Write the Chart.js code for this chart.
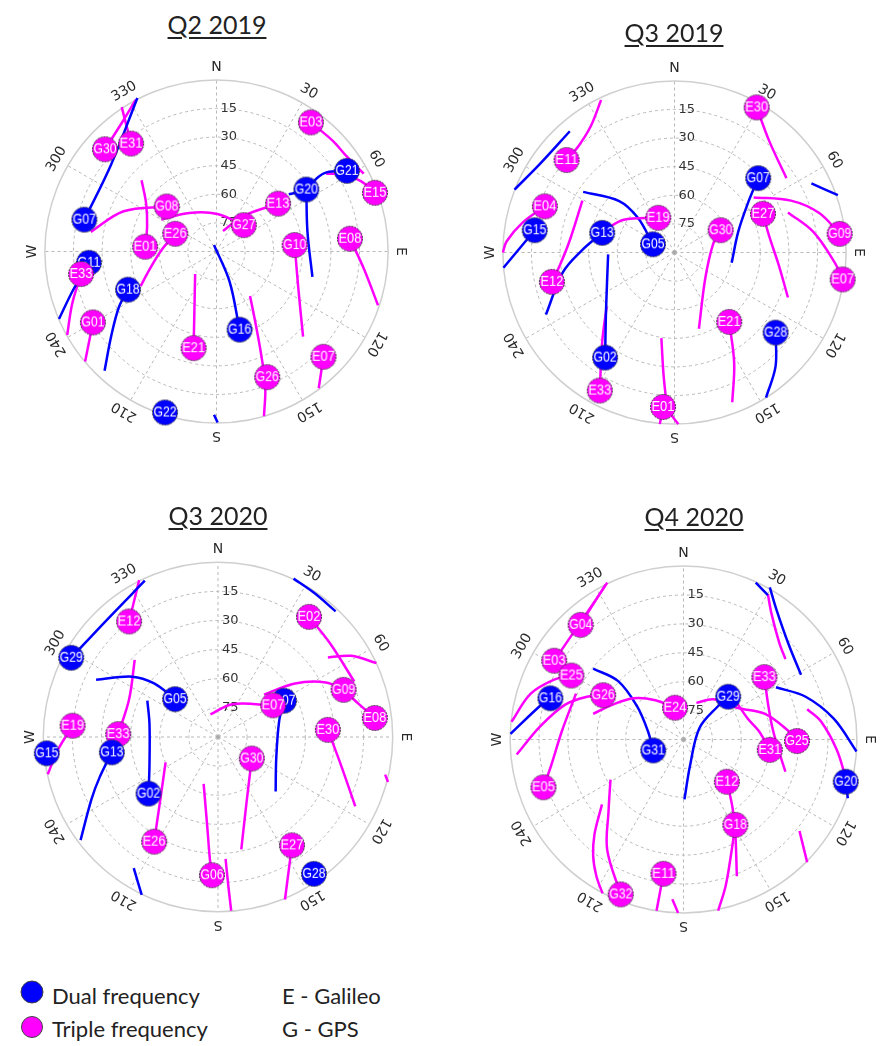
<!DOCTYPE html>
<html><head><meta charset="utf-8">
<script src="https://cdn.jsdelivr.net/npm/chart.js@4.4.0/dist/chart.umd.min.js"></script>
<style>
html,body{margin:0;padding:0;background:#fff;}
body{width:891px;height:1046px;overflow:hidden;position:relative;font-family:Lato,"Open Sans",sans-serif;color:#222}
.title{position:absolute;font-size:25px;text-decoration:underline;text-decoration-thickness:2px;text-underline-offset:3px;transform:translate(-50%,-50%);white-space:nowrap;z-index:2}
canvas{position:absolute}
.leg{position:absolute;font-size:22px;white-space:nowrap;transform:translateY(-50%)}
.dot{position:absolute;border-radius:50%;border:1px solid #444;transform:translate(-50%,-50%)}
</style></head><body>
<canvas id="c1"></canvas><canvas id="c2"></canvas><canvas id="c3"></canvas><canvas id="c4"></canvas>
<div class="title" style="left:217px;top:24px">Q2 2019</div>
<div class="title" style="left:674px;top:32px">Q3 2019</div>
<div class="title" style="left:218px;top:515px">Q3 2020</div>
<div class="title" style="left:694px;top:516px">Q4 2020</div>
<div class="dot" style="left:32px;top:992px;width:21px;height:21px;background:#0000ff"></div>
<div class="leg" style="left:52px;top:995px">Dual frequency</div>
<div class="dot" style="left:32px;top:1027px;width:20px;height:20px;background:#ff00ff"></div>
<div class="leg" style="left:52px;top:1028px">Triple frequency</div>
<div class="leg" style="left:282px;top:995px">E - Galileo</div>
<div class="leg" style="left:282px;top:1028px">G - GPS</div>
<script>
// Sky-plot coordinates: [east, north] in degrees of zenith distance (90 - elevation)
const AZ_LABELS = ['N','30','60','E','120','150','S','210','240','W','300','330'];
const EL_RINGS = [15,30,45,60,75];
const FREQ_COLORS = {D:'#0000ff', T:'#ff00ff'};

// ---- Q2 2019 ----
const p1Sats = [
 ['G30','T',-58.5,53.6],['E31','T',-44.8,56.6],['E03','T',49.5,67.7],['G21','D',68.4,42.3],['G20','D',47.1,32.5],
 ['E15','T',83.1,30.8],['G07','D',-69.3,16.7],['G08','T',-26.1,23.6],['E13','T',32.3,25.1],['G27','T',14.3,13.8],
 ['E26','T',-21.6,9.3],['E01','T',-37.4,2.5],['G10','T',41.0,3.4],['E08','T',70.0,6.7],['G11','D',-66.9,-5.9],
 ['E33','T',-71.0,-11.8],['G18','D',-46.4,-20.0],['G01','T',-64.8,-37.2],['E21','T',-12.0,-50.7],['G16','D',12.1,-41.0],
 ['E07','T',56.1,-55.2],['G26','T',26.6,-65.9],['G22','D',-27.0,-84.4]
];
const p1Tracks = [
 ['D',[[-69.3,16.7],[-55.6,44.8],[-41.5,80.5]]],
 ['T',[[-58.5,53.6],[-49.7,67.4],[-42.3,79.7]]],
 ['T',[[-44.8,56.6],[-49.7,75.7]]],
 ['T',[[49.5,67.7],[61.0,58.0],[68.4,49.7],[77.2,40.8]]],
 ['D',[[68.4,42.3],[57.7,41.5],[52.6,38.4],[47.1,32.5],[37.9,30.0]]],
 ['T',[[83.1,30.8],[75.7,36.9],[66.9,40.3],[57.5,40.8]]],
 ['D',[[47.1,32.5],[47.7,10.3],[50.3,-13.3]]],
 ['T',[[3.4,10.8],[14.3,18.7],[32.3,25.1]]],
 ['T',[[-29.0,16.7],[-14.3,20.2],[0.5,19.7],[14.3,13.8]]],
 ['T',[[-26.1,23.6],[-48.7,21.1],[-65.9,10.3]]],
 ['T',[[-39.3,37.4],[-36.9,25.1],[-36.4,12.8],[-37.4,2.5]]],
 ['T',[[-21.6,9.3],[-29.0,0.5],[-35.9,-10.8],[-39.8,-18.2]]],
 ['D',[[-46.4,-20.0],[-51.1,-29.0],[-55.1,-43.8],[-58.7,-62.5]]],
 ['D',[[-66.9,-5.9],[-75.2,-20.2],[-82.6,-35.4]]],
 ['T',[[-71.0,-11.8],[-75.7,-27.5],[-78.3,-43.8]]],
 ['T',[[-64.8,-37.2],[-68.9,-57.7]]],
 ['T',[[-12.0,-50.7],[-11.6,-31.5],[-11.2,-11.8]]],
 ['D',[[12.1,-41.0],[6.9,-15.9],[-1.3,3.4]]],
 ['T',[[41.0,3.4],[42.9,-19.2],[45.4,-44.6]]],
 ['T',[[70.0,6.7],[77.4,-9.3],[84.7,-28.2]]],
 ['T',[[56.1,-55.2],[53.6,-71.7]]],
 ['T',[[17.6,-23.3],[20.7,-38.9],[23.6,-55.1],[25.6,-70.8],[24.9,-86.4]]],
 ['D',[[-1.3,-85.6],[0.6,-89.7]]]
];

// ---- Q3 2019 ----
const p2Sats = [
 ['E30','T',43.1,76.1],['E11','T',-56.6,48.5],['G07','D',43.9,39.0],['E04','T',-68.0,24.2],['E19','T',-8.5,18.2],
 ['E27','T',46.4,20.3],['G30','T',24.2,11.7],['G09','T',86.6,9.8],['G15','D',-73.3,11.7],['G13','D',-37.9,10.3],
 ['G05','D',-11.3,4.3],['E12','T',-64.3,-15.4],['E07','T',88.2,-14.1],['E21','T',28.7,-36.4],['G28','D',53.0,-42.0],
 ['G02','D',-36.4,-55.1],['E33','T',-39.2,-72.4],['E01','T',-6.0,-81.0]
];
const p2Tracks = [
 ['T',[[43.1,76.1],[49.7,58.4],[58.7,39.0]]],
 ['T',[[-56.6,48.5],[-50.3,55.9],[-43.8,66.5],[-38.5,80.0]]],
 ['D',[[-83.9,33.0],[-70.8,46.2],[-54.9,63.6]]],
 ['D',[[71.8,36.2],[85.7,30.1]]],
 ['D',[[43.9,39.0],[38.4,25.6],[33.4,10.8],[30.0,-5.4]]],
 ['T',[[41.5,28.9],[61.1,27.2],[75.9,20.7],[86.6,9.8]]],
 ['T',[[46.4,20.3],[49.7,8.4],[54.6,-6.4],[59.5,-23.6]]],
 ['T',[[59.5,21.0],[72.8,10.8],[84.1,-5.4],[88.2,-14.1]]],
 ['T',[[24.2,11.7],[20.2,4.3],[16.1,-13.8],[12.8,-40.0]]],
 ['T',[[-8.5,18.2],[-26.6,17.2],[-36.4,11.8]]],
 ['D',[[-47.9,31.8],[-29.0,27.0],[-19.2,18.2],[-11.3,4.3]]],
 ['T',[[-68.0,24.2],[-79.7,15.7],[-88.0,5.9],[-90.0,0]]],
 ['D',[[-73.3,11.7],[-89.7,-8.0]]],
 ['T',[[-48.3,27.2],[-55.1,5.9],[-60.0,-6.4],[-64.3,-15.4]]],
 ['D',[[-37.9,10.3],[-48.7,1.0],[-58.5,-10.3],[-67.4,-32.5]]],
 ['D',[[-36.4,-55.1],[-35.9,-30.1],[-34.8,-1.0]]],
 ['T',[[-39.2,-72.4],[-37.9,-46.7],[-35.6,-28.5]]],
 ['T',[[-6.9,-44.9],[-5.4,-67.9],[-3.0,-82.6],[2.0,-90.0]]],
 ['T',[[-6.0,-81.0],[-7.7,-90.0]]],
 ['T',[[28.7,-36.4],[31.3,-58.0],[30.3,-78.5]]],
 ['D',[[53.0,-42.0],[53.0,-59.7],[48.0,-76.1]]]
];

// ---- Q3 2020 ----
const p3Sats = [
 ['G29','D',-75.6,40.8],['E12','T',-45.8,59.5],['E02','T',46.9,61.9],['G05','D',-22.1,19.5],['G09','T',64.7,24.3],
 ['G07','D',34.0,18.7],['E07','T',28.4,16.3],['E08','T',80.8,9.8],['E19','T',-74.9,5.8],['E33','T',-51.4,1.5],
 ['E30','T',56.6,3.7],['G15','D',-88.2,-8.4],['G13','D',-54.7,-7.9],['G30','T',17.4,-11.1],['G02','D',-35.8,-29.2],
 ['E26','T',-32.9,-53.9],['E27','T',38.1,-55.8],['G06','T',-3.1,-71.2],['G28','D',49.4,-70.5]
];
const p3Tracks = [
 ['D',[[-75.6,40.8],[-57.1,60.5],[-37.7,80.5]]],
 ['T',[[-45.8,59.5],[-40.6,80.8]]],
 ['D',[[38.9,81.6],[49.8,74.0],[60.6,64.7]]],
 ['T',[[46.9,61.9],[57.6,48.4],[70.2,28.6]]],
 ['T',[[56.6,41.0],[68.7,41.8],[81.6,38.1]]],
 ['T',[[23.7,21.8],[39.7,27.6],[55.6,28.1],[64.7,24.3]]],
 ['T',[[64.7,24.3],[72.6,16.9],[80.8,9.8]]],
 ['D',[[34.0,18.7],[31.5,8.2],[30.0,-11.1],[29.7,-28.1]]],
 ['T',[[28.4,16.3],[7.3,16.9],[-3.9,11.6]]],
 ['D',[[-22.1,19.5],[-32.9,27.6],[-44.2,31.1],[-62.8,29.5]]],
 ['T',[[-42.9,39.7],[-45.8,19.4],[-51.4,1.5]]],
 ['D',[[-36.4,18.7],[-35.3,6.8],[-35.3,-14.5],[-35.8,-29.2]]],
 ['T',[[-74.9,5.8],[-82.3,-6.3],[-87.7,-19.2]]],
 ['D',[[-54.7,-7.9],[-61.0,-20.8],[-65.2,-32.1],[-70.8,-53.1]]],
 ['T',[[-32.9,-53.9],[-29.7,-32.1],[-27.0,-13.1]]],
 ['T',[[-7.4,-24.1],[-5.5,-46.6],[-4.2,-62.8],[-3.1,-71.2]]],
 ['T',[[3.9,-62.8],[5.3,-76.5],[6.8,-89.5]]],
 ['T',[[17.4,-11.1],[14.7,-33.7],[12.0,-57.9]]],
 ['T',[[56.6,3.7],[63.9,-16.0],[70.7,-35.7]]],
 ['T',[[38.1,-55.8],[34.5,-83.7]]],
 ['D',[[-43.4,-67.6],[-39.3,-81.3]]],
 ['T',[[86.1,-19.4],[87.6,-23.2]]]
];

// ---- Q4 2020 ----
const p4Sats = [
 ['G04','T',-53.4,59.5],['E03','T',-67.1,40.9],['E25','T',-58.2,33.2],['G16','D',-69.1,21.4],['G26','T',-41.7,23.0],
 ['E24','T',-4.4,16.5],['G29','D',23.2,22.2],['E33','T',42.0,32.4],['G31','D',-15.7,-5.7],['E31','T',44.8,-5.4],
 ['G25','T',58.9,-0.8],['E05','T',-72.7,-24.8],['E12','T',22.5,-21.9],['G20','D',84.2,-21.9],['G18','T',26.9,-44.3],
 ['E11','T',-10.4,-69.7],['G32','T',-32.6,-80.4]
];
const p4Tracks = [
 ['T',[[-67.1,40.9],[-59.8,51.6],[-53.5,60.8],[-46.2,71.5],[-40.4,80.3]]],
 ['T',[[-53.4,59.5],[-46.7,70.5],[-39.6,81.4]]],
 ['T',[[-58.2,33.2],[-67.1,31.1],[-79.3,23.8],[-89.3,9.2]]],
 ['D',[[-69.1,21.4],[-74.4,17.5],[-89.8,2.9]]],
 ['T',[[-41.7,23.0],[-50.1,22.2],[-61.4,18.1],[-74.4,6.8],[-86.6,-7.8]]],
 ['T',[[-4.4,16.5],[-14.6,20.4],[-25.8,21.4],[-37.0,18.0],[-46.9,13.3]]],
 ['T',[[-55.8,23.8],[-63.1,4.4],[-68.7,-13.5],[-72.7,-24.8]]],
 ['D',[[-46.9,36.8],[-33.9,30.3],[-24.2,17.4],[-18.5,4.4],[-15.7,-5.7]]],
 ['D',[[23.2,22.2],[18.0,17.4],[8.3,6.0],[3.4,-13.5],[0.5,-31.1]]],
 ['T',[[6.7,19.0],[15.6,20.9],[27.7,16.5],[42.3,13.3],[54.5,4.4],[58.9,-0.8]]],
 ['T',[[27.7,19.0],[33.4,10.8],[39.1,4.4],[44.8,-5.4]]],
 ['T',[[42.0,32.4],[43.8,19.0],[46.2,5.8],[49.6,-6.3],[52.9,-16.7]]],
 ['D',[[48.0,27.1],[63.4,22.2],[78.0,10.8],[89.8,-6.2]]],
 ['T',[[64.2,15.7],[71.5,9.2],[79.6,-5.4],[84.2,-19.9]]],
 ['D',[[84.2,-21.9],[85.3,-30.5]]],
 ['D',[[37.5,81.4],[43.8,74.9]]],
 ['D',[[44.8,79.0],[48.2,67.6],[54.5,49.6],[61.0,33.6]]],
 ['T',[[43.8,75.4],[45.7,65.2],[49.6,50.6],[52.9,41.7]]],
 ['T',[[60.2,-47.5],[64.2,-63.7]]],
 ['T',[[22.5,-21.9],[25.3,-34.5],[26.8,-46.7],[27.7,-71.0]]],
 ['T',[[26.9,-44.3],[24.8,-58.9],[21.9,-75.9],[18.0,-88.9]]],
 ['T',[[-10.4,-69.7],[-14.0,-88.9]]],
 ['T',[[-5.8,-82.9],[-2.8,-90.0]]],
 ['T',[[-32.6,-80.4],[-39.6,-57.3],[-38.9,-37.0],[-37.9,-20.8]]],
 ['T',[[-42.3,-33.7],[-46.2,-49.1],[-46.9,-60.5],[-45.2,-71.0],[-42.0,-79.9]]]
];

const polarGrid = {
  id: 'polarGrid',
  beforeDatasetsDraw(chart) {
    const {ctx, scales: {x, y}} = chart;
    const cx = x.getPixelForValue(0), cy = y.getPixelForValue(0);
    const rad = v => Math.abs(x.getPixelForValue(v) - cx);
    const R = rad(90);
    ctx.save();
    ctx.strokeStyle = '#b8b8b8'; ctx.lineWidth = 1; ctx.setLineDash([3, 3]);
    EL_RINGS.forEach(el => { ctx.beginPath(); ctx.arc(cx, cy, rad(90 - el), 0, 2 * Math.PI); ctx.stroke(); });
    for (let a = 0; a < 360; a += 30) {
      const t = a * Math.PI / 180;
      ctx.beginPath(); ctx.moveTo(cx, cy); ctx.lineTo(cx + R * Math.sin(t), cy - R * Math.cos(t)); ctx.stroke();
    }
    ctx.setLineDash([]);
    ctx.strokeStyle = '#cfcfcf'; ctx.lineWidth = 1.5;
    ctx.beginPath(); ctx.arc(cx, cy, R, 0, 2 * Math.PI); ctx.stroke();
    ctx.fillStyle = '#aaa'; ctx.beginPath(); ctx.arc(cx, cy, 2, 0, 2 * Math.PI); ctx.fill();
    ctx.fillStyle = '#2a2a2a'; ctx.font = '14px "DejaVu Sans"'; ctx.textAlign = 'center'; ctx.textBaseline = 'middle';
    AZ_LABELS.forEach((lab, i) => {
      const t = i * 30 * Math.PI / 180, d = R + 13;
      ctx.save(); ctx.translate(cx + d * Math.sin(t), cy - d * Math.cos(t)); ctx.rotate(t); ctx.fillText(lab, 0, 0); ctx.restore();
    });
    ctx.textAlign = 'left'; ctx.font = '13px "DejaVu Sans"'; ctx.fillStyle = '#333';
    EL_RINGS.forEach(el => ctx.fillText(String(el), cx + 4, cy - rad(90 - el)));
    ctx.restore();
  }
};

function satSprite(name, freq) {
  const c = document.createElement('canvas'); c.width = 30; c.height = 30;
  const g = c.getContext('2d');
  g.beginPath(); g.arc(15, 15, 12.5, 0, 2 * Math.PI);
  g.fillStyle = FREQ_COLORS[freq]; g.fill();
  g.strokeStyle = '#3a3a3a'; g.lineWidth = 1; g.setLineDash([2, 1]); g.stroke();
  g.fillStyle = '#fff'; g.font = '14px "Liberation Sans"'; g.textAlign = 'center'; g.textBaseline = 'middle';
  g.fillText(name, 15, 15.5, 23);
  return c;
}

function makeChart(id, sats, tracks, cx, cy, R) {
  const size = Math.round(2 * R * 102 / 90);
  const cv = document.getElementById(id);
  cv.width = size; cv.height = size;
  cv.style.left = (cx - size / 2) + 'px'; cv.style.top = (cy - size / 2) + 'px';
  const datasets = tracks.map(([f, pts]) => ({
    data: pts.map(([u, v]) => ({x: u, y: v})),
    showLine: true, borderColor: FREQ_COLORS[f], borderWidth: 2.5,
    pointRadius: 0, tension: 0.35, order: 10, clip: false
  }));
  datasets.push({
    data: sats.map(s => ({x: s[2], y: s[3]})),
    pointStyle: sats.map(s => satSprite(s[0], s[1])),
    pointRadius: 12, showLine: false, order: 0, clip: false
  });
  new Chart(cv, {
    type: 'scatter',
    data: {datasets},
    options: {
      responsive: false, animation: false, events: [],
      layout: {padding: 0},
      plugins: {legend: {display: false}, tooltip: {enabled: false}},
      scales: {
        x: {type: 'linear', min: -102, max: 102, display: false},
        y: {type: 'linear', min: -102, max: 102, display: false}
      }
    },
    plugins: [polarGrid]
  });
}

makeChart('c1', p1Sats, p1Tracks, 216, 251, 183);
makeChart('c2', p2Sats, p2Tracks, 674, 252, 183);
makeChart('c3', p3Sats, p3Tracks, 218, 737, 186);
makeChart('c4', p4Sats, p4Tracks, 683, 739, 185);
</script>
</body></html>
